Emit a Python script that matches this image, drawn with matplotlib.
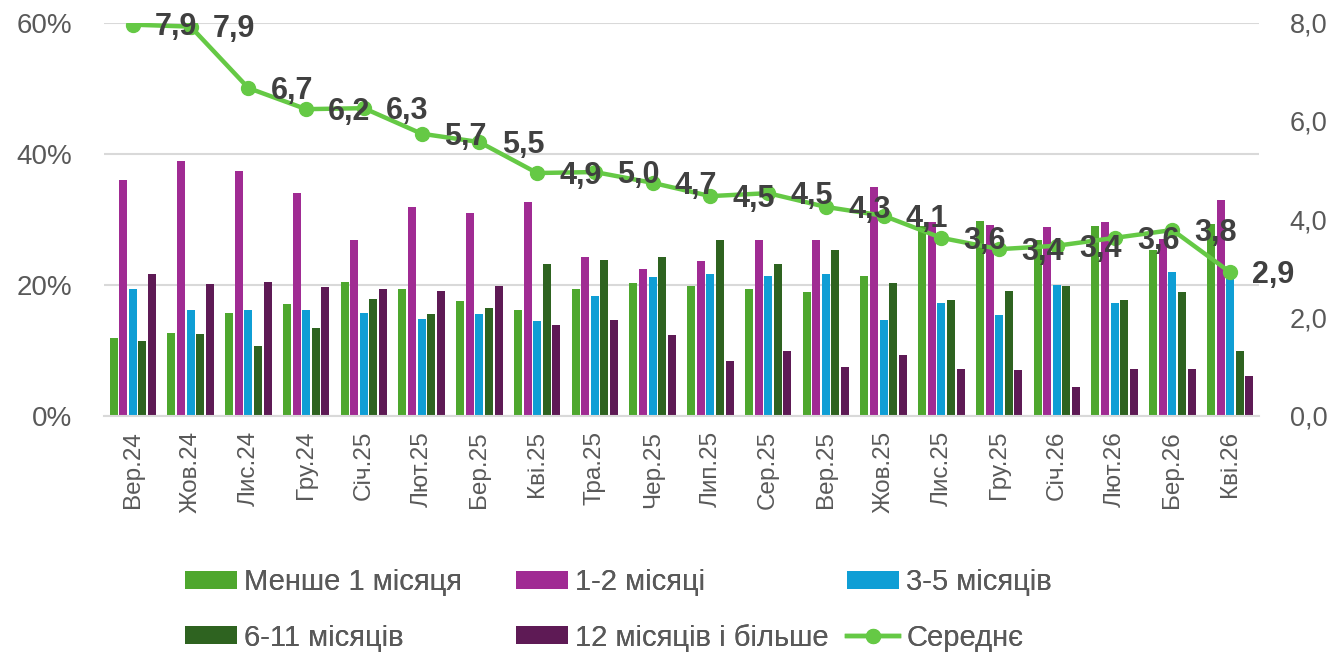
import numpy as np
import matplotlib
matplotlib.use('Agg')
import matplotlib.pyplot as plt
from matplotlib.ticker import FuncFormatter

plt.rcParams['font.family'] = ['Liberation Sans', 'DejaVu Sans']

months = ['Вер.24', 'Жов.24', 'Лис.24', 'Гру.24', 'Січ.25', 'Лют.25', 'Бер.25', 'Кві.25',
          'Тра.25', 'Чер.25', 'Лип.25', 'Сер.25', 'Вер.25', 'Жов.25', 'Лис.25', 'Гру.25',
          'Січ.26', 'Лют.26', 'Бер.26', 'Кві.26']

# частки, %
less_1m = [11.8, 12.6, 15.7, 17.0, 20.4, 19.3, 17.5, 16.1, 19.3, 20.2,
           19.8, 19.3, 18.9, 21.3, 29.0, 29.8, 26.8, 28.9, 25.3, 29.2]
m1_2 = [36.0, 38.9, 37.3, 34.0, 26.8, 31.8, 30.9, 32.6, 24.2, 22.4,
        23.6, 26.8, 26.9, 34.9, 29.5, 29.1, 28.8, 29.6, 27.0, 32.9]
m3_5 = [19.4, 16.2, 16.1, 16.1, 15.7, 14.8, 15.5, 14.5, 18.3, 21.1,
        21.6, 21.3, 21.7, 14.6, 17.2, 15.4, 20.0, 17.2, 22.0, 22.0]
m6_11 = [11.4, 12.5, 10.6, 13.4, 17.8, 15.5, 16.4, 23.2, 23.8, 24.2,
         26.8, 23.1, 25.3, 20.2, 17.6, 19.0, 19.8, 17.6, 18.9, 9.9]
m12_plus = [21.6, 20.1, 20.4, 19.7, 19.3, 19.0, 19.8, 13.9, 14.6, 12.3,
            8.4, 9.9, 7.4, 9.3, 7.1, 7.0, 4.4, 7.1, 7.1, 6.1]
# середнє, місяців
average = [7.96, 7.92, 6.67, 6.24, 6.26, 5.74, 5.57, 4.94, 4.96, 4.74,
           4.47, 4.53, 4.25, 4.07, 3.62, 3.39, 3.46, 3.62, 3.78, 2.92]
avg_labels = ['7,9', '7,9', '6,7', '6,2', '6,3', '5,7', '5,5', '4,9', '5,0', '4,7',
              '4,5', '4,5', '4,3', '4,1', '3,6', '3,4', '3,4', '3,6', '3,8', '2,9']

series = [
    ('Менше 1 місяця', less_1m, '#4EA72E'),
    ('1-2 місяці', m1_2, '#A02B93'),
    ('3-5 місяців', m3_5, '#0F9ED5'),
    ('6-11 місяців', m6_11, '#2E6320'),
    ('12 місяців і більше', m12_plus, '#5E1A55'),
]

gray = '#595959'

fig = plt.figure(figsize=(13.37, 6.55), dpi=100)
ax = fig.add_axes([104 / 1337, 1 - 415.7 / 655, 1155 / 1337, 393 / 655])
x = np.arange(len(months))
step = 0.166
width = 0.138

handles = []
for i, (name, vals, col) in enumerate(series):
    b = ax.bar(x + (i - 2) * step, np.array(vals) / 100, width, color=col, label=name, zorder=2)
    handles.append(b)

ax.set_xlim(-0.5, len(months) - 0.5)
ax.set_ylim(0, 0.6)
ax.set_yticks([0, 0.2, 0.4, 0.6])
ax.yaxis.set_major_formatter(FuncFormatter(lambda v, p: f'{v * 100:.0f}%'))
ax.grid(axis='y', color='#D9D9D9', linewidth=1.5, zorder=0)
ax.set_axisbelow(True)
for s in ['top', 'left', 'right']:
    ax.spines[s].set_visible(False)
ax.spines['bottom'].set_color('#D9D9D9')
ax.spines['bottom'].set_linewidth(1.5)
ax.set_xticks(x)
ax.set_xticklabels(months, rotation=90)
ax.tick_params(axis='x', length=0, pad=11, labelsize=17.5, labelcolor=gray)
ax.tick_params(axis='y', length=0, pad=23, labelsize=20, labelcolor=gray)

ax2 = ax.twinx()
ax2.set_ylim(0, 8)
ax2.set_yticks([0, 2, 4, 6, 8])
ax2.yaxis.set_major_formatter(FuncFormatter(lambda v, p: f'{v:.1f}'.replace('.', ',')))
ax2.tick_params(axis='y', length=0, pad=22, labelsize=19.5, labelcolor=gray)
for s in ax2.spines.values():
    s.set_visible(False)

line, = ax2.plot(x, average, color='#65C945', linewidth=3.2, marker='o', markersize=10,
                 label='Середнє', zorder=3)
for xi, yi, lab in zip(x, average, avg_labels):
    ax2.annotate(lab, (xi, yi), xytext=(16, -2), textcoords='offset points',
                 ha='left', va='center', fontsize=22, fontweight='bold', color='#404040', zorder=4)

# легенда: три колонки з фіксованим кроком, як у Excel
cols = [[handles[0], handles[3]], [handles[1], handles[4]], [handles[2], line]]
col_x = [185, 516, 847]
for hs, cx in zip(cols, col_x):
    leg = fig.legend(handles=hs, labels=[h.get_label() for h in hs], loc='upper left',
                     bbox_to_anchor=(cx / 1337, 1 - 568 / 655), frameon=False, fontsize=21,
                     handlelength=1.78, handleheight=0.57, handletextpad=0.25,
                     labelspacing=0.95, borderpad=0, borderaxespad=0, labelcolor=gray)
    fig.add_artist(leg)

fig.savefig('out.png', dpi=100)
